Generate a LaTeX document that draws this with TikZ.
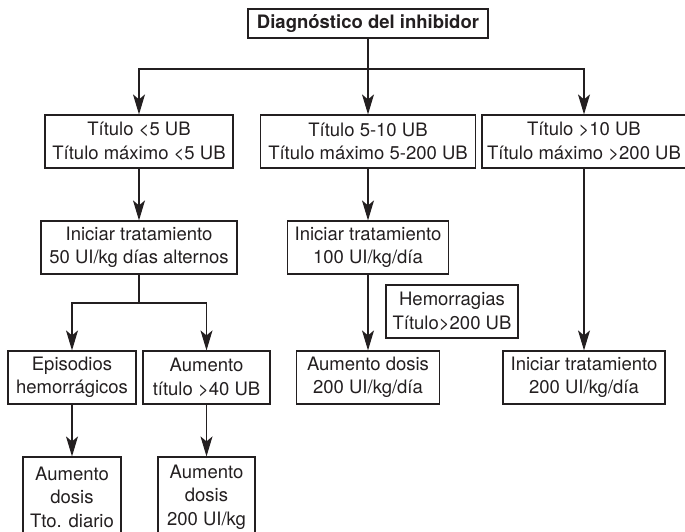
\documentclass[tikz,border=0pt]{standalone}
\usepackage{fontspec}
\setmainfont{TeX Gyre Heros}
\usetikzlibrary{arrows.meta}
\definecolor{ink}{RGB}{35,31,32}
\tikzset{
  box/.style={draw=ink, line width=1.2pt, rectangle, inner sep=0pt, align=center,
    text=ink, font=\fontsize{18.5pt}{23.5pt}\selectfont},
  arr/.style={draw=ink, line width=1.1pt, -{Stealth[length=20pt, width=12pt, inset=5pt]}},
  ln/.style={draw=ink, line width=1.1pt}
}
\begin{document}
\begin{tikzpicture}[x=1pt,y=1pt]
\useasboundingbox (0,0) rectangle (685,-531);
\clip (0,0) rectangle (685,-531);
\node[box, minimum width=240pt, minimum height=29pt, font=\fontsize{18.5pt}{23.5pt}\selectfont\bfseries] (top) at (368,-23.5) {Diagnóstico del inhibidor};
\node[box, minimum width=188pt, minimum height=53pt] (A) at (139,-141.5) {Título <5 UB\\Título máximo <5 UB};
\node[box, minimum width=215pt, minimum height=53pt] (B) at (368,-141.5) {Título 5-10 UB\\Título máximo 5-200 UB};
\node[box, minimum width=204pt, minimum height=53pt] (C) at (584,-141.5) {Título >10 UB\\Título máximo >200 UB};
\node[box, minimum width=196pt, minimum height=53pt] (D) at (139,-247.5) {Iniciar tratamiento\\50 UI/kg días alternos};
\node[box, minimum width=161pt, minimum height=53pt] (E) at (368,-247.5) {Iniciar tratamiento\\100 UI/kg/día};
\node[box, minimum width=132pt, minimum height=53pt] (F) at (452,-311.5) {Hemorragias\\Título>200 UB};
\node[box, minimum width=143pt, minimum height=53pt] (G) at (368,-377.5) {Aumento dosis\\200 UI/kg/día};
\node[box, minimum width=162pt, minimum height=53pt] (H) at (584,-377.5) {Iniciar tratamiento\\200 UI/kg/día};
\node[box, minimum width=128pt, minimum height=53pt] (I) at (72,-377.5) {Episodios\\hemorrágicos};
\node[box, minimum width=127pt, minimum height=53pt] (J) at (206.5,-377.5) {Aumento\\título >40 UB};
\node[box, minimum width=98pt, minimum height=80pt] (K) at (72,-497) {Aumento\\dosis\\Tto. diario};
\node[box, minimum width=97pt, minimum height=80pt] (L) at (206.5,-497) {Aumento\\dosis\\200 UI/kg};
\coordinate (j1) at (368,-69);
\coordinate (j2) at (139,-303);
\draw[ln] (top.south) -- (j1);
\draw[arr] (j1) -- (B.north);
\draw[arr] (j1) -| (A.north);
\draw[arr] (j1) -| (C.north);
\draw[arr] (A.south) -- (D.north);
\draw[arr] (B.south) -- (E.north);
\draw[arr] (E.south) -- (G.north);
\draw[arr] (C.south) -- (H.north);
\draw[ln] (D.south) -- (j2);
\draw[arr] (j2) -| (I.north);
\draw[arr] (j2) -| (J.north);
\draw[arr] (I.south) -- (K.north);
\draw[arr] (J.south) -- (L.north);
\end{tikzpicture}
\end{document}
